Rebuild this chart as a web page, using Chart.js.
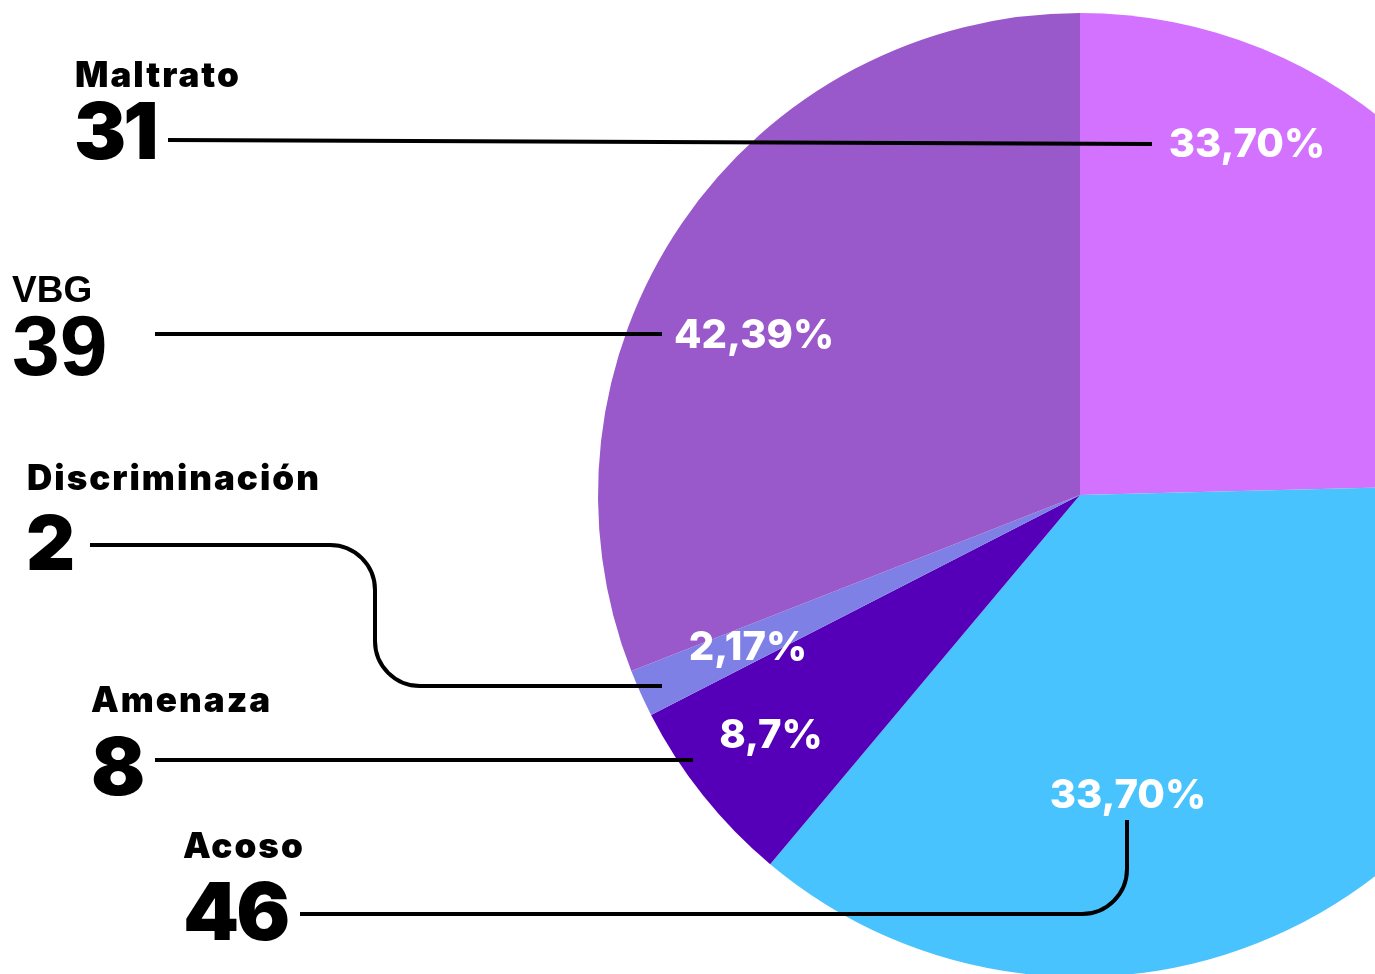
<!DOCTYPE html>
<html>
<head>
<meta charset="utf-8">
<script src="https://cdn.jsdelivr.net/npm/chart.js@4.4.1/dist/chart.umd.min.js"></script>
<style>
  html, body { margin: 0; padding: 0; background: #fff; overflow: hidden; }
  /* the pie is larger than the window and runs off the right/bottom edge */
  #wrap { position: absolute; left: 0; top: 0; width: 1600px; height: 1000px; }
</style>
</head>
<body>
<div id="wrap"><canvas id="chart"></canvas></div>
<script>
const categories = ['Maltrato', 'Acoso', 'Amenaza', 'Discriminación', 'VBG'];
const counts = [31, 46, 8, 2, 39];
const pctLabels = ['33,70%', '33,70%', '8,7%', '2,17%', '42,39%'];
const sliceColors = ['#d272fe', '#49c3fe', '#5500b8', '#7e80e6', '#9a59cb'];

// Callout layout (same order as categories): name + count on the left,
// percent label inside the slice, leader line between them.
const callouts = [
    { name: [75, 87], num: [74, 159], numSize: 78, pct: [1247, 157], path: [[168, 140], [1152, 144]] },
    { name: [183, 858], num: [183, 940], numSize: 80, pct: [1128, 808], path: [[300, 914], [1127, 914], [1127, 820]] },
    { name: [91, 712], num: [91, 795], numSize: 80, pct: [771, 748], path: [[155, 760], [693, 760]] },
    { name: [27, 490], num: [26, 570], numSize: 76, pct: [748, 660], path: [[90, 545], [375, 545], [375, 686], [662, 686]] },
    { name: [12, 302], num: [12, 375], numSize: 86, pct: [754, 348], path: [[155, 334], [662, 334]], arial: true }
];

const calloutPlugin = {
    id: 'callouts',
    afterDraw(chart) {
        const ctx = chart.ctx;
        ctx.save();

        // leader lines
        ctx.strokeStyle = '#000';
        ctx.lineWidth = 4;
        ctx.lineJoin = 'round';
        callouts.forEach(c => {
            const p = c.path;
            ctx.beginPath();
            ctx.moveTo(p[0][0], p[0][1]);
            for (let i = 1; i < p.length - 1; i++) {
                ctx.arcTo(p[i][0], p[i][1], p[i + 1][0], p[i + 1][1], 45);
            }
            ctx.lineTo(p[p.length - 1][0], p[p.length - 1][1]);
            ctx.stroke();
        });

        // left labels
        ctx.fillStyle = '#000';
        ctx.textAlign = 'left';
        ctx.textBaseline = 'alphabetic';
        callouts.forEach((c, i) => {
            if (c.arial) {
                ctx.letterSpacing = '0px';
                ctx.font = 'bold 37px "Liberation Sans", Arial, sans-serif';
                ctx.fillText(categories[i], c.name[0], c.name[1]);
                ctx.font = 'bold ' + c.numSize + 'px "Liberation Sans", Arial, sans-serif';
                ctx.fillText(String(counts[i]), c.num[0], c.num[1]);
            } else {
                ctx.letterSpacing = '2px';
                ctx.font = '900 35px Inter, sans-serif';
                ctx.fillText(categories[i], c.name[0], c.name[1]);
                ctx.letterSpacing = '-3px';
                ctx.font = '900 ' + c.numSize + 'px Inter, sans-serif';
                ctx.fillText(String(counts[i]), c.num[0], c.num[1]);
            }
        });

        // percent labels
        ctx.letterSpacing = '0px';
        ctx.fillStyle = '#fff';
        ctx.textAlign = 'center';
        ctx.font = '800 40px Inter, sans-serif';
        callouts.forEach((c, i) => {
            ctx.fillText(pctLabels[i], c.pct[0], c.pct[1]);
        });

        ctx.restore();
    }
};

new Chart(document.getElementById('chart'), {
    type: 'pie',
    data: {
        labels: categories,
        datasets: [{
            data: counts,
            backgroundColor: sliceColors,
            borderWidth: 0
        }]
    },
    options: {
        responsive: true,
        maintainAspectRatio: false,
        animation: false,
        events: [],
        layout: {
            padding: { left: 598, top: 13, right: 38, bottom: 23 }
        },
        plugins: {
            legend: { display: false },
            tooltip: { enabled: false }
        }
    },
    plugins: [calloutPlugin]
});
</script>
</body>
</html>
